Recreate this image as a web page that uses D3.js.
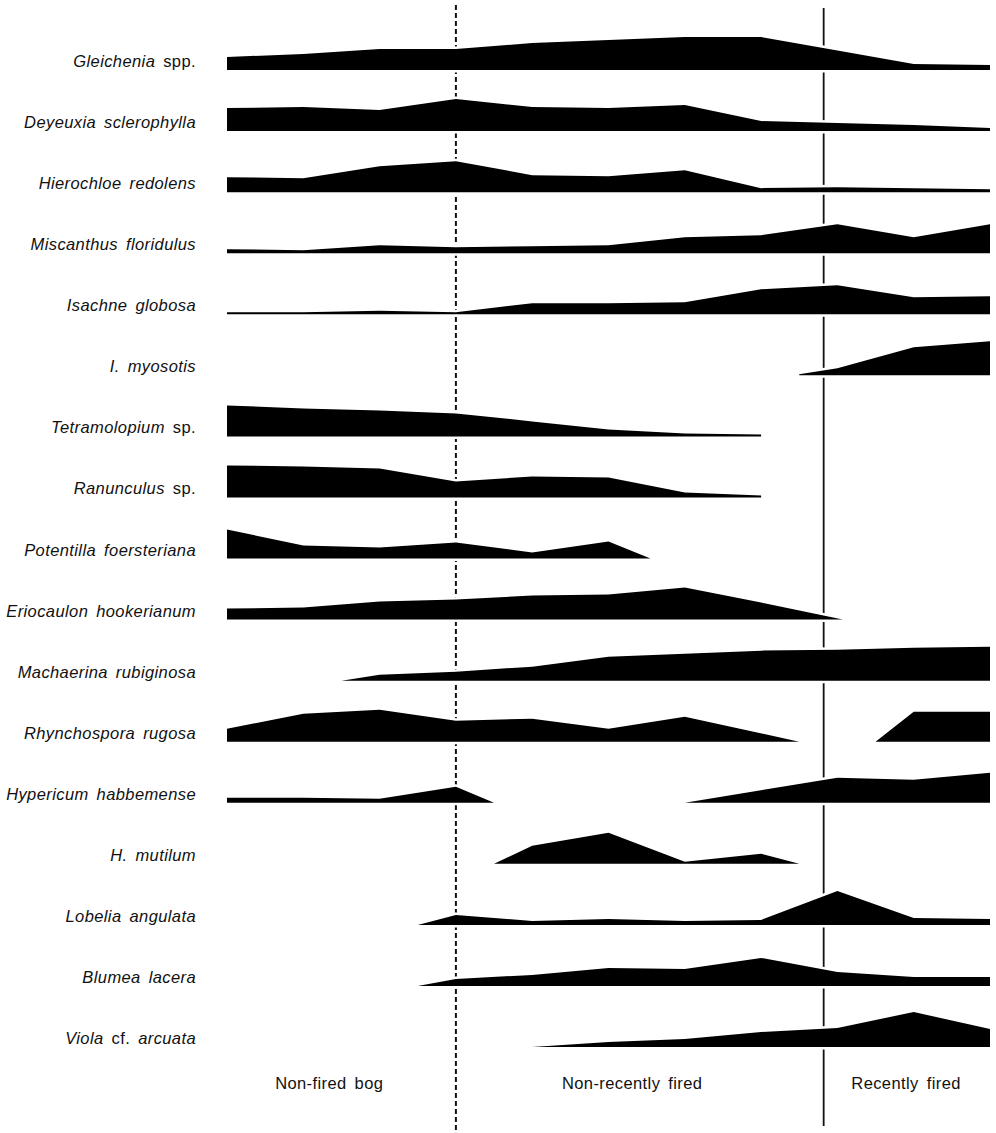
<!DOCTYPE html>
<html>
<head>
<meta charset="utf-8">
<script src="https://cdn.jsdelivr.net/npm/d3@7"></script>
<style>
  html, body { margin: 0; padding: 0; background: #fff; }
  svg { display: block; }
  text { font-family: "Liberation Sans", Arial, sans-serif; fill: #111; }
</style>
</head>
<body>
<svg id="chart" width="996" height="1133"></svg>
<script>
// ---- DATA ----
// Species label parts: alternating italic / roman segments (starting italic)
const speciesLabels = [
  ["Gleichenia", " spp."],
  ["Deyeuxia sclerophylla"],
  ["Hierochloe redolens"],
  ["Miscanthus floridulus"],
  ["Isachne globosa"],
  ["I. myosotis"],
  ["Tetramolopium", " sp."],
  ["Ranunculus", " sp."],
  ["Potentilla foersteriana"],
  ["Eriocaulon hookerianum"],
  ["Machaerina rubiginosa"],
  ["Rhynchospora rugosa"],
  ["Hypericum habbemense"],
  ["H. mutilum"],
  ["Lobelia angulata"],
  ["Blumea lacera"],
  ["Viola", " cf. ", "arcuata"]
];

// Relative abundance profiles: [site position along transect (0-10), abundance]; null = absent
const gleichenia    = [[0,13],[1,16],[2,21],[3,21],[4,27],[5,30],[6,33],[7,33],[8,19.5],[9,6],[10,5]];
const deyeuxia      = [[0,23],[1,24],[2,21],[3,32],[4,24],[5,23],[6,26],[7,10],[8,8],[9,6],[10,3]];
const hierochloe    = [[0,15],[1,14],[2,26],[3,31],[4,17],[5,16],[6,22],[7,4],[8,5],[9,4],[10,3]];
const miscanthus    = [[0,4],[1,3],[2,8],[3,6],[4,7],[5,8],[6,16],[7,18],[8,29],[9,16],[10,29]];
const isachne       = [[0,2],[1,2],[2,3.5],[3,2],[4,11],[5,11],[6,12],[7,25],[8,29],[9,17],[10,18]];
const myosotis      = [[7.5,1],[8,7],[9,28],[10,34]];
const tetramolopium = [[0,31],[1,28],[2,26],[3,23],[4,15],[5,7],[6,3],[7,2]];
const ranunculus    = [[0,32],[1,31],[2,29],[3,16],[4,21],[5,20],[6,5],[7,2]];
const potentilla    = [[0,29],[1,13],[2,11],[3,16],[4,6],[5,17],[5.55,0]];
const eriocaulon    = [[0,11],[1,12],[2,18],[3,20],[4,24],[5,25],[6,32],[7,17],[8.07,0]];
const machaerina    = [[1.5,0],[2,6],[3,9],[4,14],[5,24],[6,27],[7,30],[8,31],[9,33],[10,34]];
const rhynchospora  = [[0,13],[1,28],[2,32],[3,21],[4,23],[5,13],[6,25],[7.5,0],[8,null],[8.5,0],[9,30],[10,30]];
const hypericumH    = [[0,5],[1,5],[2,4],[3,16],[3.5,0],[5,null],[6,0],[8,25],[9,23],[10,30]];
const hypericumM    = [[3.5,0],[4,18],[5,31],[6,2],[7,10],[7.5,0]];
const lobelia       = [[2.5,0],[3,10],[4,4],[5,6],[6,4],[7,5],[8,34],[9,7],[10,6]];
const blumea        = [[2.5,0],[3,7],[4,11],[5,18],[6,17],[7,28],[8,14],[9,9],[10,9]];
const viola         = [[4,0],[5,5],[6,8],[7,15],[8,19],[9,35],[10,18]];

const profiles = [gleichenia, deyeuxia, hierochloe, miscanthus, isachne, myosotis,
  tetramolopium, ranunculus, potentilla, eriocaulon, machaerina, rhynchospora,
  hypericumH, hypericumM, lobelia, blumea, viola];

// Zone boundaries (site positions) and zone labels
const boundaryDashed = 3;
const boundarySolid = 7.82;
const zoneNames = ["Non-fired bog", "Non-recently fired", "Recently fired"];
const zoneCenters = [1.34, 5.31, 8.9];

// ---- CHART ----
const svg = d3.select("#chart");
const x = d3.scaleLinear().domain([0, 10]).range([227, 990]);
const rowBase = d3.scalePoint().domain(d3.range(speciesLabels.length)).range([70, 1047]);
const h = d3.scaleLinear().domain([0, 40]).range([0, 40]);

// Zone divider lines (drawn first so silhouettes mask them)
svg.append("line")
  .attr("x1", x(boundaryDashed)).attr("x2", x(boundaryDashed))
  .attr("y1", 5).attr("y2", 1131)
  .attr("stroke", "#111").attr("stroke-width", 2)
  .attr("stroke-dasharray", "5,3");
svg.append("line")
  .attr("x1", x(boundarySolid)).attr("x2", x(boundarySolid))
  .attr("y1", 8).attr("y2", 1126)
  .attr("stroke", "#111").attr("stroke-width", 1.8);

// Silhouettes
profiles.forEach((prof, i) => {
  const base = rowBase(i);
  const area = d3.area()
    .defined(d => d[1] !== null)
    .x(d => x(d[0]))
    .y0(base)
    .y1(d => base - h(d[1]));
  svg.append("path")
    .attr("d", area(prof))
    .attr("fill", "#000")
    .attr("stroke", "#fff")
    .attr("stroke-width", 5)
    .attr("stroke-linejoin", "round")
    .style("paint-order", "stroke");
});

// Species labels
speciesLabels.forEach((parts, i) => {
  const t = svg.append("text")
    .attr("x", 196)
    .attr("y", rowBase(i) - 3)
    .attr("text-anchor", "end")
    .attr("font-size", 16.5)
    .attr("letter-spacing", 0.4)
    .attr("word-spacing", 3);
  parts.forEach((p, k) => {
    t.append("tspan")
      .attr("font-style", k % 2 === 0 ? "italic" : "normal")
      .text(p);
  });
});

// Zone labels
svg.selectAll("text.zone")
  .data(zoneNames)
  .join("text")
  .attr("class", "zone")
  .attr("x", (d, i) => x(zoneCenters[i]))
  .attr("y", 1089)
  .attr("text-anchor", "middle")
  .attr("font-size", 16.5)
  .attr("letter-spacing", 0.4)
  .attr("word-spacing", 3)
  .text(d => d);
</script>
</body>
</html>
